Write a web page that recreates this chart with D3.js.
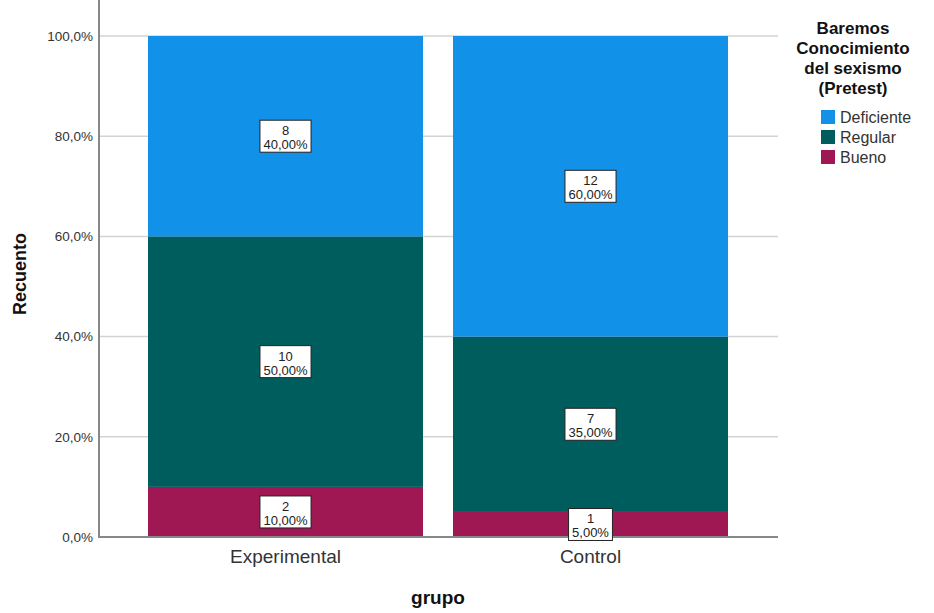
<!DOCTYPE html>
<html><head><meta charset="utf-8">
<script src="https://cdn.jsdelivr.net/npm/d3@7"></script>
<style>body{margin:0;background:#fff}svg{font-family:Arial,"Liberation Sans",sans-serif}</style>
</head><body>
<svg id="c" width="934" height="613"></svg>
<script>
const categories = ["Experimental", "Control"];
const seriesNames = ["Bueno", "Regular", "Deficiente"];
const counts = {
  Bueno: [2, 1],
  Regular: [10, 7],
  Deficiente: [8, 12]
};
const percents = {
  Bueno: [10, 5],
  Regular: [50, 35],
  Deficiente: [40, 60]
};
const colors = ["#9f1853", "#005d5d", "#1192e8"];
const yTicks = [0, 20, 40, 60, 80, 100];
const legendTitle = ["Baremos", "Conocimiento", "del sexismo", "(Pretest)"];
const legendOrder = ["Deficiente", "Regular", "Bueno"];

const svg = d3.select("#c");
const x = d3.scaleBand().domain(categories).range([148, 728]).paddingInner(30/305).paddingOuter(0);
const y = d3.scaleLinear().domain([0, 100]).range([537, 36]);
const color = d3.scaleOrdinal().domain(seriesNames).range(colors);
const fmt = v => v.toFixed(2).replace(".", ",") + "%";

// gridlines
svg.append("g").selectAll("line").data(yTicks.filter(d => d > 0)).join("line")
  .attr("x1", 99).attr("x2", 778).attr("y1", d => y(d)).attr("y2", d => y(d))
  .attr("stroke", "#d3d3d3").attr("stroke-width", 1.5);

// stacked data
const rows = categories.map((c, i) => {
  const r = {cat: c};
  seriesNames.forEach(s => r[s] = percents[s][i]);
  return r;
});
const stack = d3.stack().keys(seriesNames)(rows);

svg.append("g").selectAll("g").data(stack).join("g")
  .attr("fill", d => color(d.key))
  .selectAll("rect").data(d => d).join("rect")
  .attr("x", d => x(d.data.cat)).attr("width", x.bandwidth())
  .attr("y", d => y(d[1])).attr("height", d => y(d[0]) - y(d[1]));

// axes
const yAxis = svg.append("g").attr("transform", "translate(99,0)")
  .call(d3.axisLeft(y).tickValues(yTicks).tickFormat(d => d.toFixed(1).replace(".", ",") + "%").tickSize(0).tickPadding(6));
yAxis.select(".domain").remove();
yAxis.selectAll("text").attr("font-size", 13.5).attr("fill", "#333").attr("font-family", "Arial, 'Liberation Sans', sans-serif");

svg.append("line").attr("x1", 99).attr("x2", 99).attr("y1", 0).attr("y2", 537)
  .attr("stroke", "#888").attr("stroke-width", 2);
const xAxis = svg.append("g").attr("transform", "translate(0,537)")
  .call(d3.axisBottom(x).tickSize(0).tickPadding(13));
xAxis.select(".domain").remove();
xAxis.selectAll("text").attr("font-size", 19).attr("fill", "#333").attr("font-family", "Arial, 'Liberation Sans', sans-serif");
svg.append("line").attr("x1", 98).attr("x2", 778).attr("y1", 537).attr("y2", 537)
  .attr("stroke", "#888").attr("stroke-width", 2);

// data labels
const labels = [];
stack.forEach(layer => layer.forEach((d, i) => {
  labels.push({cx: x(d.data.cat) + x.bandwidth()/2, cy: y((d[0] + d[1]) / 2),
    n: counts[layer.key][i], p: percents[layer.key][i]});
}));
const lg = svg.append("g").selectAll("g").data(labels).join("g")
  .attr("transform", d => `translate(${d.cx},${d.cy})`);
const box = lg.append("rect").attr("y", -16).attr("height", 32)
  .attr("fill", "#fff").attr("stroke", "#222").attr("stroke-width", 1);
lg.append("text").attr("text-anchor", "middle").attr("y", -1).attr("font-size", 13).attr("fill", "#222").text(d => d.n);
const pt = lg.append("text").attr("text-anchor", "middle").attr("y", 13).attr("font-size", 13).attr("fill", "#222").text(d => fmt(d.p));
pt.each(function(d) { d.w = this.getComputedTextLength() + 7; });
box.attr("x", d => -d.w / 2).attr("width", d => d.w);

// axis titles
svg.append("text").attr("transform", "translate(26,274) rotate(-90)").attr("text-anchor", "middle")
  .attr("font-size", 18).attr("font-weight", "bold").attr("fill", "#111").text("Recuento");
svg.append("text").attr("x", 438).attr("y", 604).attr("text-anchor", "middle")
  .attr("font-size", 19).attr("font-weight", "bold").attr("fill", "#111").text("grupo");

// legend
const leg = svg.append("g");
leg.selectAll("text.t").data(legendTitle).join("text").attr("class", "t")
  .attr("x", 853).attr("y", (d, i) => 34 + i * 20).attr("text-anchor", "middle")
  .attr("font-size", 17).attr("font-weight", "bold").attr("fill", "#111").text(d => d);
const li = leg.selectAll("g.i").data(legendOrder).join("g").attr("class", "i")
  .attr("transform", (d, i) => `translate(821,${110 + i * 20})`);
li.append("rect").attr("width", 14).attr("height", 14).attr("fill", d => color(d));
li.append("text").attr("x", 19).attr("y", 13).attr("font-size", 16).attr("fill", "#333").text(d => d);
</script>
</body></html>
